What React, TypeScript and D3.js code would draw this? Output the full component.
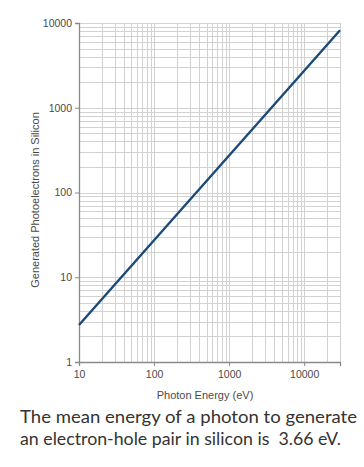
import React, { useEffect, useRef } from "react";
import * as d3 from "d3";

// photon energy (eV) vs. generated photoelectrons in silicon
const photonEnergy = [10, 100, 1000, 10000, 30000];
const photoelectrons = [2.73, 27.3, 273, 2732, 8197];
const xTicks = [10, 100, 1000, 10000];
const yTicks = [1, 10, 100, 1000, 10000];
const caption = [
  "The mean energy of a photon to generate",
  "an electron-hole pair in silicon is  3.66 eV.",
];

const App = () => {
  const ref = useRef<SVGSVGElement>(null);

  useEffect(() => {
    const svg = d3.select(ref.current);
    svg.selectAll("*").remove();

    const margin = { top: 23, right: 24, bottom: 105, left: 79 };
    const W = 364, H = 467;
    const width = W - margin.left - margin.right;
    const height = H - margin.top - margin.bottom;

    const x = d3.scaleLog().domain([10, 30000]).range([0, width]);
    const y = d3.scaleLog().domain([1, 10000]).range([height, 0]);

    const g = svg.append("g").attr("transform", `translate(${margin.left},${margin.top})`);

    // grid: every 1..9 of each decade
    const xGrid = x.ticks().filter(v => v > 10);
    const yGrid = y.ticks().filter(v => v > 1);

    g.selectAll(".vgrid")
      .data(xGrid)
      .enter().append("line")
      .attr("x1", d => Math.round(x(d)) + 0.5)
      .attr("x2", d => Math.round(x(d)) + 0.5)
      .attr("y1", 0)
      .attr("y2", height)
      .attr("stroke", "#d2d2d2")
      .attr("stroke-width", 1);

    g.selectAll(".hgrid")
      .data(yGrid)
      .enter().append("line")
      .attr("x1", 0)
      .attr("x2", width)
      .attr("y1", d => Math.round(y(d)) + 0.5)
      .attr("y2", d => Math.round(y(d)) + 0.5)
      .attr("stroke", "#d2d2d2")
      .attr("stroke-width", 1);

    // axes
    const xAxis = g.append("g")
      .attr("transform", `translate(0,${height})`)
      .call(d3.axisBottom(x).tickValues(xTicks).tickFormat(d3.format("d")).tickSize(4).tickPadding(5));
    const yAxis = g.append("g")
      .call(d3.axisLeft(y).tickValues(yTicks).tickFormat(d3.format("d")).tickSize(4).tickPadding(3));

    [xAxis, yAxis].forEach(a => {
      a.select(".domain").attr("stroke", "#8a8a8a").attr("stroke-width", 1.3);
      a.selectAll(".tick line").attr("stroke", "#8a8a8a");
      a.selectAll("text")
        .attr("fill", "#4a4a4a")
        .style("font-family", "Liberation Sans, Arial, sans-serif")
        .style("font-size", "10.5px");
    });

    // the line
    const pts = photonEnergy.map((e, i) => [e, photoelectrons[i]] as [number, number]);
    g.append("path")
      .datum(pts)
      .attr("fill", "none")
      .attr("stroke", "#1c4a78")
      .attr("stroke-width", 2.4)
      .attr("d", d3.line<[number, number]>()
        .x(d => x(d[0]))
        .y(d => y(d[1])));

    // axis titles
    svg.append("text")
      .attr("x", 205)
      .attr("y", 399)
      .attr("text-anchor", "middle")
      .attr("fill", "#4a4a4a")
      .style("font-family", "Liberation Sans, Arial, sans-serif")
      .style("font-size", "11px")
      .text("Photon Energy (eV)");

    svg.append("text")
      .attr("transform", "translate(39,200) rotate(-90)")
      .attr("text-anchor", "middle")
      .attr("fill", "#4a4a4a")
      .style("font-family", "Liberation Sans, Arial, sans-serif")
      .style("font-size", "11px")
      .text("Generated Photoelectrons in Silicon");

    // caption below the chart
    const capWidths = [337, 321];
    svg.selectAll(".caption")
      .data(caption)
      .enter().append("text")
      .attr("x", 20)
      .attr("y", (d, i) => 423 + i * 22)
      .attr("textLength", (d, i) => capWidths[i])
      .attr("lengthAdjust", "spacingAndGlyphs")
      .attr("fill", "#333")
      .style("font-family", "Lato, Open Sans, sans-serif")
      .style("font-size", "17px")
      .style("white-space", "pre")
      .text(d => d);
  }, []);

  return (
    <svg
      ref={ref}
      width={364}
      height={467}
      style={{ position: "absolute", left: 0, top: 0, background: "#fff" }}
    />
  );
};

export default App;
